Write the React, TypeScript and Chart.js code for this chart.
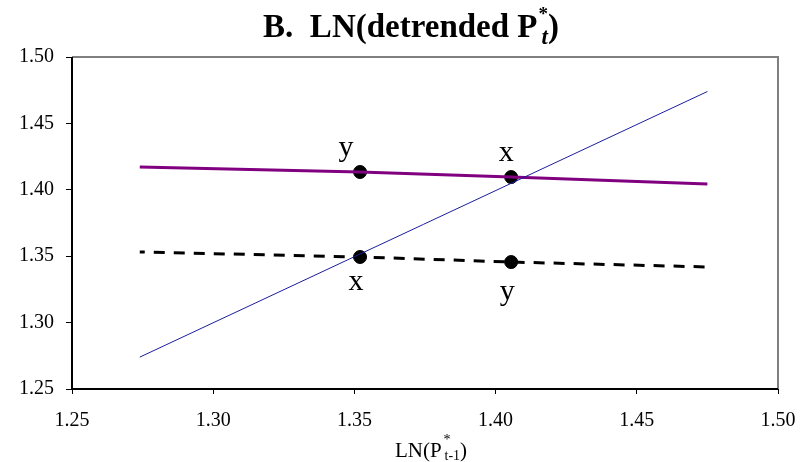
import React, { useEffect, useRef } from "react";
import { Chart, registerables } from "chart.js";
Chart.register(...registerables);

const xTicks = [1.25, 1.3, 1.35, 1.4, 1.45, 1.5];
const yTicks = [1.25, 1.3, 1.35, 1.4, 1.45, 1.5];
const diagX = [1.274, 1.475];
const diagY = [1.274, 1.474];
const purpleX = [1.274, 1.352, 1.4055, 1.475];
const purpleY = [1.4172, 1.4134, 1.4096, 1.4044];
const dashX = [1.274, 1.352, 1.4055, 1.475];
const dashY = [1.3532, 1.3494, 1.3456, 1.3419];
const dotX = [1.352, 1.4055, 1.352, 1.4055];
const dotY = [1.4134, 1.4096, 1.3494, 1.3456];
const dotLabels = ["y", "x", "x", "y"];
const dotLabelAbove = [true, true, false, false];

const SERIF = "'Liberation Serif', 'Times New Roman', serif";

const pts = (xs: number[], ys: number[]) => xs.map((x, i) => ({ x, y: ys[i] }));

const framePlugin = {
  id: "frame",
  beforeDatasetsDraw(chart: any) {
    const { ctx, chartArea: a } = chart;
    ctx.save();
    ctx.lineWidth = 2;
    ctx.strokeStyle = "#808080";
    ctx.beginPath();
    ctx.moveTo(a.left, a.top);
    ctx.lineTo(a.right, a.top);
    ctx.lineTo(a.right, a.bottom);
    ctx.stroke();
    ctx.strokeStyle = "#000";
    ctx.beginPath();
    ctx.moveTo(a.left, a.top);
    ctx.lineTo(a.left, a.bottom);
    ctx.lineTo(a.right, a.bottom);
    ctx.stroke();
    ctx.restore();
  },
  afterDraw(chart: any) {
    const { ctx } = chart;
    const xs = chart.scales.x;
    const ys = chart.scales.y;
    ctx.save();
    ctx.fillStyle = "#000";
    // point labels
    ctx.font = `30px ${SERIF}`;
    ctx.textAlign = "center";
    ctx.textBaseline = "alphabetic";
    dotLabels.forEach((t, i) => {
      const px = xs.getPixelForValue(dotX[i]);
      const py = ys.getPixelForValue(dotY[i]);
      if (dotLabelAbove[i]) {
        ctx.fillText(t, px + (t === "y" ? -14 : -5), py - 16);
      } else {
        ctx.fillText(t, px - 4, py + (t === "y" ? 38 : 33));
      }
    });
    // title
    const main = "B.  LN(detrended P";
    ctx.textAlign = "left";
    ctx.font = `bold 33px ${SERIF}`;
    const wMain = ctx.measureText(main).width;
    ctx.font = `bold 19px ${SERIF}`;
    const wStar = ctx.measureText("*").width;
    ctx.font = `italic bold 23px ${SERIF}`;
    const wT = ctx.measureText("t").width;
    ctx.font = `bold 33px ${SERIF}`;
    const wClose = ctx.measureText(")").width;
    const sub = Math.max(wStar, wT + 4);
    const total = wMain + sub + wClose;
    const x0 = 411 - total / 2;
    const base = 37;
    ctx.fillText(main, x0, base);
    ctx.font = `bold 19px ${SERIF}`;
    ctx.fillText("*", x0 + wMain + 1, base - 17);
    ctx.font = `italic bold 23px ${SERIF}`;
    ctx.fillText("t", x0 + wMain + 4, base + 7);
    ctx.font = `bold 33px ${SERIF}`;
    ctx.fillText(")", x0 + wMain + sub, base);
    // axis title
    const am = "LN(P";
    ctx.font = `21px ${SERIF}`;
    const wA = ctx.measureText(am).width;
    ctx.font = `14px ${SERIF}`;
    const wAT = ctx.measureText("t-1").width;
    ctx.font = `21px ${SERIF}`;
    const wAC = ctx.measureText(")").width;
    const aTotal = wA + 3 + wAT + wAC;
    const ax = 431 - aTotal / 2;
    const ab = 457;
    ctx.fillText(am, ax, ab);
    ctx.font = `14px ${SERIF}`;
    ctx.fillText("*", ax + wA + 2, ab - 13);
    ctx.fillText("t-1", ax + wA + 3, ab + 3);
    ctx.font = `21px ${SERIF}`;
    ctx.fillText(")", ax + wA + 3 + wAT, ab);
    ctx.restore();
  },
};

export default function App() {
  const ref = useRef<HTMLCanvasElement>(null);
  useEffect(() => {
    document.body.style.margin = "0";
    const tickFont = { family: SERIF, size: 20 };
    const chart = new Chart(ref.current!, {
      type: "scatter",
      data: {
        datasets: [
          {
            data: pts(diagX, diagY),
            showLine: true,
            borderColor: "#1c1c9c",
            borderWidth: 1,
            pointRadius: 0,
          },
          {
            data: pts(purpleX, purpleY),
            showLine: true,
            borderColor: "#800080",
            borderWidth: 3,
            pointRadius: 0,
          },
          {
            data: pts(dashX, dashY),
            showLine: true,
            borderColor: "#000",
            borderWidth: 3,
            borderDash: [11, 9],
            borderDashOffset: 6,
            pointRadius: 0,
          },
          {
            data: pts(dotX, dotY),
            showLine: false,
            backgroundColor: "#000",
            borderColor: "#000",
            pointRadius: 6.5,
          },
        ],
      } as any,
      options: {
        animation: false,
        responsive: false,
        layout: { padding: { top: 57, right: 34, left: 0, bottom: 0 } },
        plugins: { legend: { display: false }, tooltip: { enabled: false }, title: { display: false } },
        scales: {
          x: {
            type: "linear",
            min: 1.25,
            max: 1.5,
            afterBuildTicks: (s: any) => {
              s.ticks = xTicks.map((v) => ({ value: v }));
            },
            afterFit: (s: any) => {
              s.height = 73;
            },
            ticks: {
              font: tickFont,
              color: "#000",
              padding: 15,
              maxRotation: 0,
              callback: (v: any) => Number(v).toFixed(2),
            },
            grid: { drawOnChartArea: false, drawTicks: true, tickLength: 5, color: "#000" },
            border: { display: false },
          },
          y: {
            type: "linear",
            min: 1.25,
            max: 1.5,
            afterBuildTicks: (s: any) => {
              s.ticks = yTicks.map((v) => ({ value: v }));
            },
            afterFit: (s: any) => {
              s.width = 72;
            },
            ticks: {
              font: tickFont,
              color: "#000",
              padding: 12,
              callback: (v: any) => Number(v).toFixed(2),
            },
            grid: { drawOnChartArea: false, drawTicks: true, tickLength: 6, color: "#000" },
            border: { display: false },
          },
        },
      } as any,
      plugins: [framePlugin],
    });
    return () => chart.destroy();
  }, []);
  return <canvas ref={ref} width={812} height={462} style={{ display: "block", width: 812, height: 462 }} />;
}
